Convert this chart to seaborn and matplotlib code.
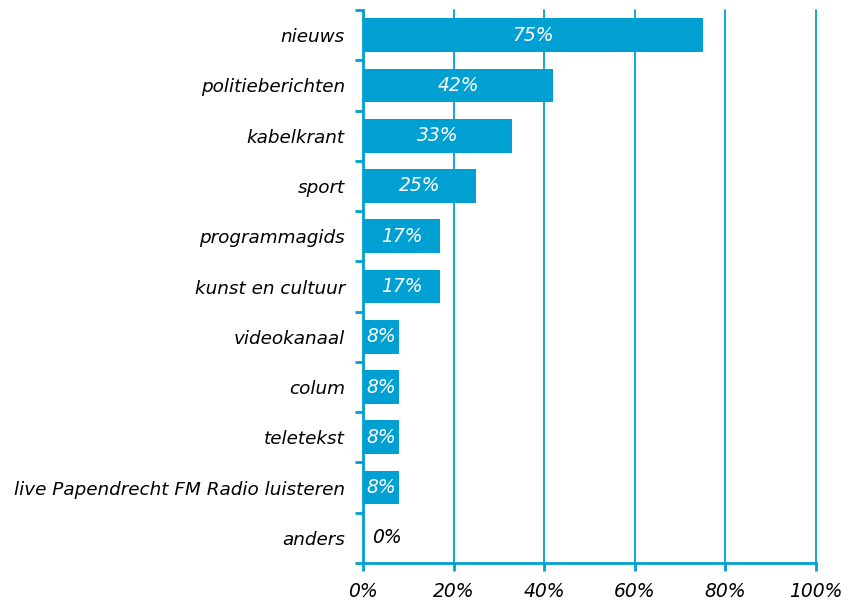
import numpy as np
import pandas as pd
import matplotlib
matplotlib.use("Agg")
import matplotlib.pyplot as plt
import seaborn as sns

# --- dati ---
categorie = ["nieuws", "politieberichten", "kabelkrant", "sport", "programmagids",
             "kunst en cultuur", "videokanaal", "colum", "teletekst",
             "live Papendrecht FM Radio luisteren", "anders"]
percentuali = [75, 42, 33, 25, 17, 17, 8, 8, 8, 8, 0]
tick_x = [0, 20, 40, 60, 80, 100]

df = pd.DataFrame({"categoria": categorie, "perc": percentuali})

blu = "#00A0D2"

sns.set_theme(style="white")
plt.rcParams["font.family"] = ["DejaVu Sans"]
plt.rcParams["font.style"] = "italic"

fig = plt.figure(figsize=(8.51, 6.06), dpi=100)
ax = fig.add_axes([363 / 851, 1 - 563 / 606, (816 - 363) / 851, (563 - 10) / 606])

sns.barplot(data=df, x="perc", y="categoria", color=blu, saturation=1,
            width=0.67, linewidth=0, ax=ax, zorder=3)

ax.set_xlim(0, 100)
ax.set_ylim(len(categorie) - 0.5, -0.5)

# griglia verticale
for t in tick_x[1:]:
    ax.axvline(t, color=blu, linewidth=1.3, zorder=1, clip_on=False)

# etichette dei valori
for i, v in enumerate(percentuali):
    if v > 0:
        ax.text(v / 2, i, f"{v}%", color="white", ha="center", va="center",
                fontsize=13.5, style="italic", zorder=4)
    else:
        ax.text(2, i, f"{v}%", color="black", ha="left", va="center",
                fontsize=13.5, style="italic", zorder=4)

# assi
for s in ["top", "right"]:
    ax.spines[s].set_visible(False)
for s in ["left", "bottom"]:
    ax.spines[s].set_color(blu)
    ax.spines[s].set_linewidth(2)
ax.spines["left"].set_zorder(5)

ax.set_xticks(tick_x)
ax.set_xticklabels([f"{t}%" for t in tick_x], fontsize=13.5, style="italic", color="black")
ax.set_yticks(np.arange(-0.5, len(categorie), 1), minor=False)
ax.set_yticklabels([])
ax.set_yticks(np.arange(len(categorie)), minor=True)
ax.set_yticklabels(categorie, minor=True, fontsize=13.2, style="italic", color="black")
ax.tick_params(axis="y", which="major", length=6, width=2, color=blu, direction="out", left=True)
ax.tick_params(axis="y", which="minor", length=0, pad=13)
ax.tick_params(axis="x", length=6, width=2, color=blu, direction="out", bottom=True, pad=8)

ax.set_xlabel("")
ax.set_ylabel("")

plt.savefig("out.png", dpi=100)
